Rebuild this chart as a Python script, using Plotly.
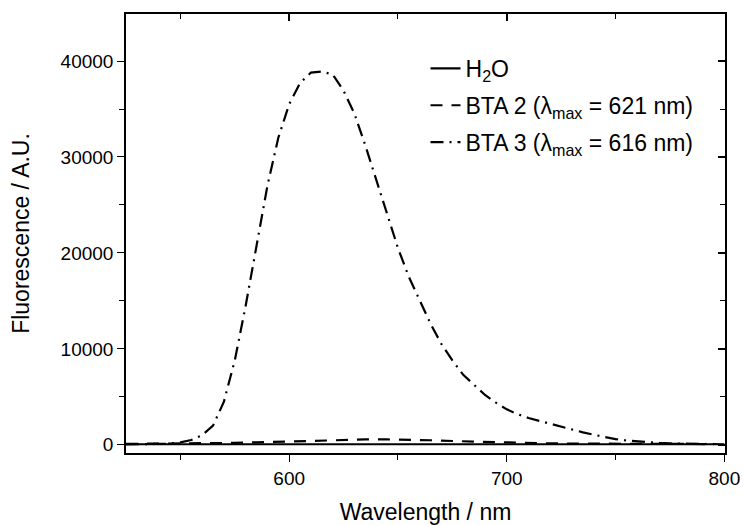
import plotly.graph_objects as go

wl_bta3 = list(range(525, 801, 5))
bta3 = [50, 50, 60, 80, 120, 250, 500, 1000, 2000, 4500, 8800, 14500, 20800, 27000,
        32000, 35500, 37700, 38800, 38900, 38600, 36900, 34500, 31200, 27700, 24000,
        20500, 17500, 15000, 12600, 10500, 8800, 7300, 6200, 5200, 4400, 3700, 3200,
        2800, 2500, 2200, 1900, 1550, 1300, 1050, 800, 600, 450, 350, 270, 200, 150,
        120, 100, 80, 70, 60]

wl_10 = list(range(525, 801, 10))
bta2 = [100, 110, 120, 140, 160, 200, 260, 330, 400, 470, 530, 560, 560, 540, 480,
        400, 330, 260, 210, 170, 140, 120, 110, 100, 95, 90, 85, 80]
h2o = [60, 60, 60, 60, 65, 70, 80, 90, 100, 110, 120, 130, 135, 135, 130, 120, 110,
       100, 90, 85, 80, 75, 70, 65, 60, 60, 60, 60]

names = ["H<sub>2</sub>O", "BTA 2 (λ<sub>max</sub> = 621 nm)", "BTA 3 (λ<sub>max</sub> = 616 nm)"]

x_ticks = [600, 700, 800]
x_minor = [550, 650, 750]
y_ticks = [0, 10000, 20000, 30000, 40000]
y_ticktext = ["0", "10000", "20000", "30000", "40000"]
y_minor = [5000, 15000, 25000, 35000]

x_range = [525, 800.3]
y_range = [-850, 44900]

fig = go.Figure()
fig.add_trace(go.Scatter(x=wl_10, y=h2o, mode="lines", name=names[0], legendgroup="a",
                         line=dict(color="black", width=2.2, dash="solid")))
fig.add_trace(go.Scatter(x=wl_10, y=bta2, mode="lines", name=names[1], legendgroup="b",
                         line=dict(color="black", width=2.2, dash="12px,9px")))
fig.add_trace(go.Scatter(x=wl_bta3, y=bta3, mode="lines", name=names[2], legendgroup="c",
                         line=dict(color="black", width=2.2, dash="13px,6px,2px,6px")))
# trace on the mirrored (top/right) axes so that they are drawn with inward ticks
fig.add_trace(go.Scatter(x=wl_10, y=h2o, xaxis="x2", yaxis="y2",
                         mode="markers", marker=dict(size=1, opacity=0),
                         showlegend=False, hoverinfo="skip"))

font = "Liberation Sans, Arial, sans-serif"
common = dict(showgrid=False, zeroline=False, automargin=False, tickcolor="black")
fig.update_layout(
    width=745, height=525,
    margin=dict(l=126, r=20, t=14, b=72),
    paper_bgcolor="white", plot_bgcolor="white",
    font=dict(family=font, color="black"),
    showlegend=True,
    legend=dict(x=0.5, y=0.925, xanchor="left", yanchor="top",
                bgcolor="rgba(0,0,0,0)", font=dict(size=23, family=font),
                traceorder="grouped", tracegroupgap=4),
    xaxis=dict(range=x_range, showline=True, linecolor="black", linewidth=1.5, mirror=True,
               ticks="outside", ticklen=7, tickwidth=1.2, tickvals=x_ticks, tickfont=dict(size=19),
               minor=dict(ticks="outside", ticklen=5, tickvals=x_minor, tickcolor="black"),
               title=dict(text="Wavelength / nm", font=dict(size=23), standoff=19), **common),
    yaxis=dict(range=y_range, showline=True, linecolor="black", linewidth=1.5, mirror=True,
               ticks="outside", ticklen=7, tickwidth=1.2, tickvals=y_ticks, ticktext=y_ticktext,
               tickfont=dict(size=19),
               minor=dict(ticks="outside", ticklen=5, tickvals=y_minor, tickcolor="black"),
               title=dict(text="Fluorescence / A.U.", font=dict(size=23), standoff=25), **common),
    xaxis2=dict(overlaying="x", side="top", anchor="y2", range=x_range,
                showline=False, showticklabels=False,
                ticks="inside", ticklen=7, tickwidth=1.5, tickmode="array", tickvals=x_ticks,
                minor=dict(ticks="inside", ticklen=5, tickwidth=1.2, tickvals=x_minor, tickcolor="black"),
                **common),
    yaxis2=dict(overlaying="y", side="right", anchor="x2", range=y_range,
                showline=False, showticklabels=False,
                ticks="inside", ticklen=7, tickwidth=1.5, tickmode="array", tickvals=y_ticks,
                minor=dict(ticks="inside", ticklen=5, tickwidth=1.2, tickvals=y_minor, tickcolor="black"),
                **common),
)

fig.write_html("out.html", config={"displayModeBar": False},
               post_script="document.body.style.margin='0px';")
